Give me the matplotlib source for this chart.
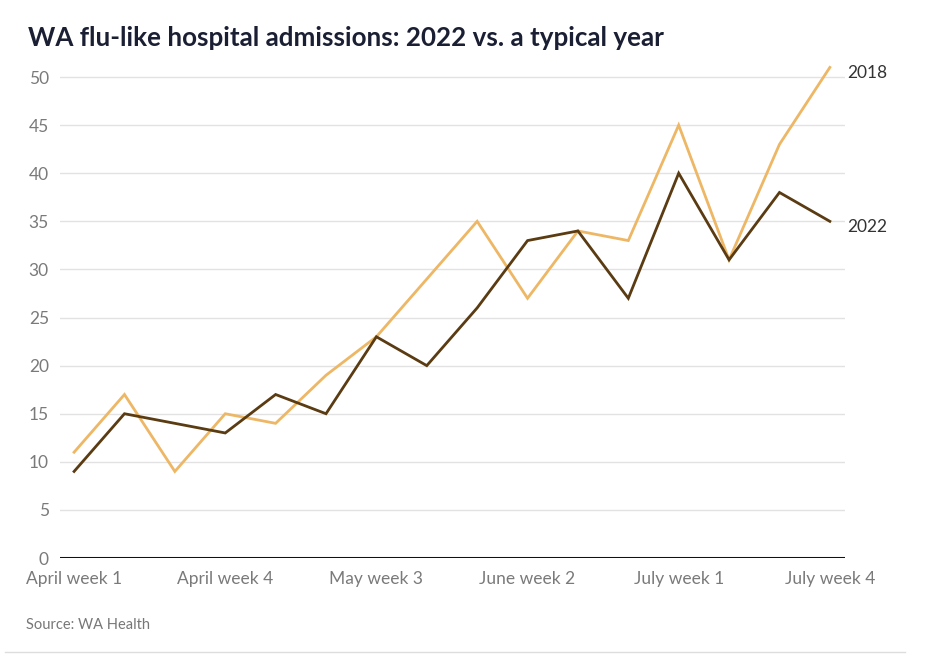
import matplotlib
matplotlib.use("Agg")
import matplotlib.pyplot as plt
from matplotlib.lines import Line2D

plt.rcParams['font.family'] = ['Lato', 'DejaVu Sans']

weeks = ["April week 1", "April week 2", "April week 3", "April week 4",
         "May week 1", "May week 2", "May week 3", "May week 4",
         "June week 1", "June week 2", "June week 3", "June week 4",
         "July week 1", "July week 2", "July week 3", "July week 4"]
y2018 = [11, 17, 9, 15, 14, 19, 23, 29, 35, 27, 34, 33, 45, 31, 43, 51]
y2022 = [9, 15, 14, 13, 17, 15, 23, 20, 26, 33, 34, 27, 40, 31, 38, 35]
yticks = [0, 5, 10, 15, 20, 25, 30, 35, 40, 45, 50]
tick_idx = [0, 3, 6, 9, 12, 15]

c2018 = "#EDB765"
c2022 = "#5A3B12"

fig = plt.figure(figsize=(9.27, 6.72), dpi=100)
ax = fig.add_axes([0.0647, 0.1696, 0.9115 - 0.0647, 0.914 - 0.1696])

x = list(range(len(weeks)))
ax.plot(x, y2018, color=c2018, lw=2.0, solid_joinstyle='miter', zorder=3)
ax.plot(x, y2022, color=c2022, lw=2.0, solid_joinstyle='miter', zorder=4)

ax.set_xlim(-0.28, 15.3)
ax.set_ylim(0, 52)
ax.set_yticks(yticks)
ax.set_yticklabels([str(v) for v in yticks])
ax.set_xticks(tick_idx)
ax.set_xticklabels([weeks[i] for i in tick_idx])

for v in yticks[1:]:
    ax.axhline(v, color="#e2e2e2", lw=1.0, zorder=1)
ax.axhline(0, color="#111111", lw=2.2, zorder=5)

for s in ax.spines.values():
    s.set_visible(False)
ax.tick_params(axis='both', length=0, colors="#7a7a7a", labelsize=12.5)
ax.tick_params(axis='y', pad=8)
ax.tick_params(axis='x', pad=9)

ax.text(15.35, y2018[-1] - 0.6, "2018", ha='left', va='center', color="#333333",
        fontsize=12.5)
ax.text(15.35, y2022[-1] - 0.6, "2022", ha='left', va='center', color="#333333",
        fontsize=12.5)

fig.text(28 / 927, 1 - 38 / 672, "WA flu-like hospital admissions: 2022 vs. a typical year",
         ha='left', va='center', fontsize=18.7, fontweight='bold', color="#1b1f33")
fig.text(26 / 927, 1 - 625 / 672, "Source: WA Health", ha='left', va='center',
         fontsize=10.5, color="#777777")
fig.add_artist(Line2D([5 / 927, 905 / 927], [1 - 652 / 672] * 2, color="#dddddd", lw=1,
                      transform=fig.transFigure))

fig.savefig("out.png", dpi=100, facecolor="white")
